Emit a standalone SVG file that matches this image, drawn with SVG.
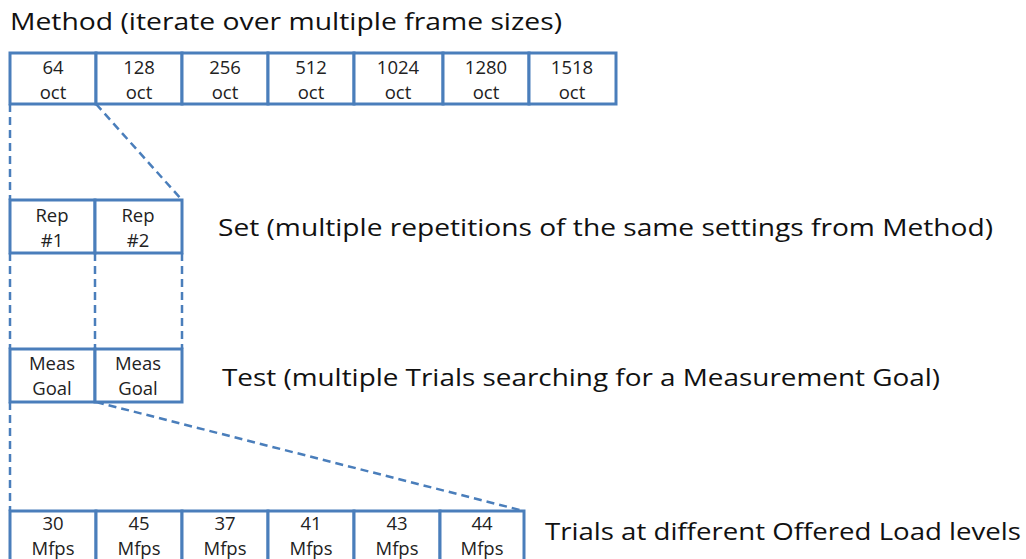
<svg xmlns="http://www.w3.org/2000/svg" width="1026" height="559" viewBox="0 0 1026 559">
<style>
.box{fill:#fff;stroke:#4a7ebb;stroke-width:3}
.dash{fill:none;stroke:#4a7ebb;stroke-width:2.5;stroke-dasharray:8 5}
.t{font-family:"Open Sans","Liberation Sans",sans-serif;font-size:18.5px;fill:#222;text-anchor:middle}
.lbl{font-family:"Open Sans","Liberation Sans",sans-serif;font-size:24px;fill:#111}
</style>
<rect width="1026" height="559" fill="#fff"/>
<g id="connectors">
<line class="dash" x1="10" y1="104" x2="10" y2="200"/>
<line class="dash" x1="96" y1="104" x2="182" y2="200"/>
<line class="dash" x1="10" y1="253" x2="10" y2="349"/>
<line class="dash" x1="95" y1="253" x2="95" y2="349"/>
<line class="dash" x1="182" y1="253" x2="182" y2="349"/>
<line class="dash" x1="10" y1="402" x2="10" y2="511"/>
<line class="dash" x1="96" y1="402" x2="524" y2="511"/>
</g>
<text class="lbl" x="10" y="30" textLength="552" lengthAdjust="spacingAndGlyphs">Method (iterate over multiple frame sizes)</text>
<g id="method">
<g id="m64"><rect class="box" x="10" y="53" width="86" height="51"/><text class="t" x="53" y="74">64</text><text class="t" x="53" y="99">oct</text></g>
<g id="m128"><rect class="box" x="96" y="53" width="86" height="51"/><text class="t" x="139" y="74">128</text><text class="t" x="139" y="99">oct</text></g>
<g id="m256"><rect class="box" x="182" y="53" width="86" height="51"/><text class="t" x="225" y="74">256</text><text class="t" x="225" y="99">oct</text></g>
<g id="m512"><rect class="box" x="268" y="53" width="86" height="51"/><text class="t" x="311" y="74">512</text><text class="t" x="311" y="99">oct</text></g>
<g id="m1024"><rect class="box" x="354" y="53" width="89" height="51"/><text class="t" x="398" y="74">1024</text><text class="t" x="398" y="99">oct</text></g>
<g id="m1280"><rect class="box" x="443" y="53" width="86" height="51"/><text class="t" x="486" y="74">1280</text><text class="t" x="486" y="99">oct</text></g>
<g id="m1518"><rect class="box" x="529" y="53" width="87" height="51"/><text class="t" x="572" y="74">1518</text><text class="t" x="572" y="99">oct</text></g>
</g>
<g id="set">
<g id="rep1"><rect class="box" x="10" y="200" width="85" height="53"/><text class="t" x="52" y="222">Rep</text><text class="t" x="52" y="247">#1</text></g>
<g id="rep2"><rect class="box" x="95" y="200" width="87" height="53"/><text class="t" x="138" y="222">Rep</text><text class="t" x="138" y="247">#2</text></g>
</g>
<text class="lbl" x="218" y="236" textLength="775" lengthAdjust="spacingAndGlyphs">Set (multiple repetitions of the same settings from Method)</text>
<g id="test">
<g id="meas1"><rect class="box" x="10" y="349" width="85" height="53"/><text class="t" x="52" y="370">Meas</text><text class="t" x="52" y="395">Goal</text></g>
<g id="meas2"><rect class="box" x="95" y="349" width="87" height="53"/><text class="t" x="138" y="370">Meas</text><text class="t" x="138" y="395">Goal</text></g>
</g>
<text class="lbl" x="222" y="386" textLength="718" lengthAdjust="spacingAndGlyphs">Test (multiple Trials searching for a Measurement Goal)</text>
<g id="trials">
<g id="t30"><rect class="box" x="10" y="511" width="86" height="60"/><text class="t" x="53" y="530">30</text><text class="t" x="53" y="555">Mfps</text></g>
<g id="t45"><rect class="box" x="96" y="511" width="86" height="60"/><text class="t" x="139" y="530">45</text><text class="t" x="139" y="555">Mfps</text></g>
<g id="t37"><rect class="box" x="182" y="511" width="86" height="60"/><text class="t" x="225" y="530">37</text><text class="t" x="225" y="555">Mfps</text></g>
<g id="t41"><rect class="box" x="268" y="511" width="86" height="60"/><text class="t" x="311" y="530">41</text><text class="t" x="311" y="555">Mfps</text></g>
<g id="t43"><rect class="box" x="354" y="511" width="86" height="60"/><text class="t" x="397" y="530">43</text><text class="t" x="397" y="555">Mfps</text></g>
<g id="t44"><rect class="box" x="440" y="511" width="84" height="60"/><text class="t" x="482" y="530">44</text><text class="t" x="482" y="555">Mfps</text></g>
</g>
<text class="lbl" x="545" y="540" textLength="476" lengthAdjust="spacingAndGlyphs">Trials at different Offered Load levels</text>
</svg>
